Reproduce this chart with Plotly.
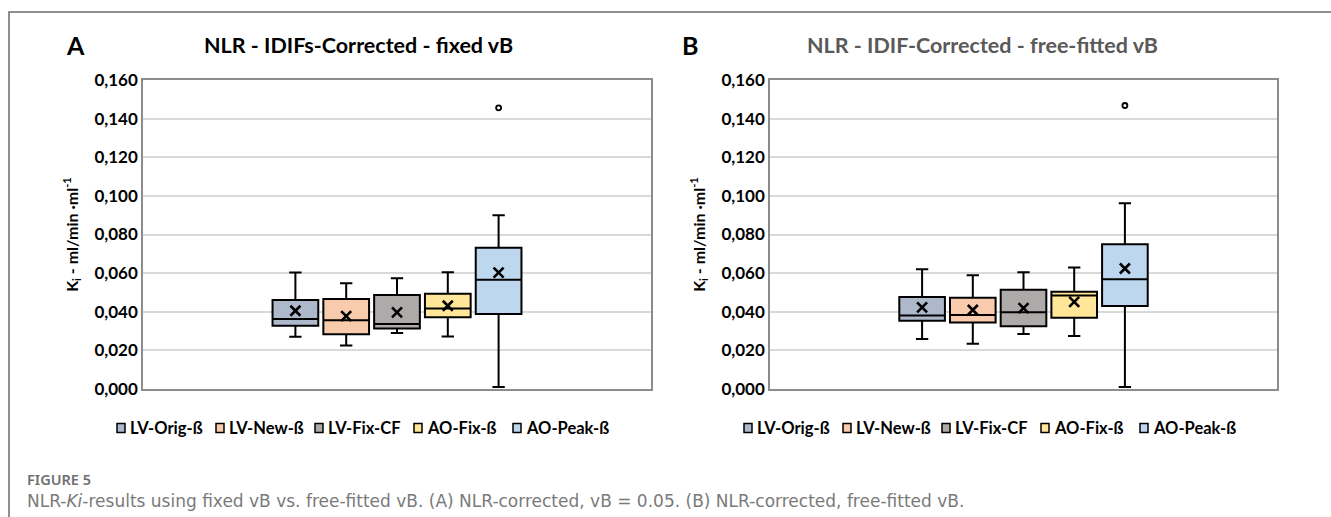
import plotly.graph_objects as go

# ---------------- data ----------------
series = ["LV-Orig-ß", "LV-New-ß", "LV-Fix-CF", "AO-Fix-ß", "AO-Peak-ß"]
colors = ["#ADB9CA", "#F8CBAD", "#AEAAAA", "#FFE699", "#BDD7EE"]

# Panel A: NLR - IDIFs-Corrected - fixed vB
a_lower = [0.0271, 0.0225, 0.0290, 0.0272, 0.0010]
a_q1 = [0.0328, 0.0283, 0.0313, 0.0372, 0.0388]
a_median = [0.0363, 0.0356, 0.0337, 0.0417, 0.0566]
a_q3 = [0.0461, 0.0466, 0.0487, 0.0493, 0.0732]
a_upper = [0.0603, 0.0547, 0.0573, 0.0604, 0.0900]
a_mean = [0.0405, 0.0377, 0.0397, 0.0431, 0.0603]
a_outlier_series = ["AO-Peak-ß"]
a_outlier_values = [0.1456]

# Panel B: NLR - IDIF-Corrected - free-fitted vB
b_lower = [0.0259, 0.0234, 0.0285, 0.0274, 0.0010]
b_q1 = [0.0353, 0.0344, 0.0325, 0.0369, 0.0430]
b_median = [0.0381, 0.0383, 0.0397, 0.0484, 0.0568]
b_q3 = [0.0477, 0.0473, 0.0514, 0.0503, 0.0749]
b_upper = [0.0620, 0.0589, 0.0604, 0.0629, 0.0962]
b_mean = [0.0423, 0.0409, 0.0419, 0.0451, 0.0624]
b_outlier_series = ["AO-Peak-ß"]
b_outlier_values = [0.1468]

y_ticks = [0.0, 0.02, 0.04, 0.06, 0.08, 0.10, 0.12, 0.14, 0.16]

FONT = "Lato, 'Open Sans', sans-serif"
W, H = 1331, 517


def px(x):
    return x / W


def py(y):
    return 1 - y / H


fig = go.Figure()


def add_panel(lower, q1, med, q3, upper, mean, out_series, out_values, xref, yref):
    for i, name in enumerate(series):
        fig.add_trace(go.Box(
            x=[i], q1=[q1[i]], median=[med[i]], q3=[q3[i]],
            lowerfence=[lower[i]], upperfence=[upper[i]],
            name=name, fillcolor=colors[i],
            line=dict(color="black", width=2),
            whiskerwidth=0.27, width=0.9, boxpoints=False,
            xaxis=xref, yaxis=yref, showlegend=False, hoverinfo="skip",
        ))
    fig.add_trace(go.Scatter(
        x=list(range(len(series))), y=mean, mode="markers",
        marker=dict(symbol="x-thin", size=10, line=dict(color="black", width=2.6)),
        showlegend=False, xaxis=xref, yaxis=yref, hoverinfo="skip",
    ))
    fig.add_trace(go.Scatter(
        x=[series.index(s) for s in out_series], y=out_values, mode="markers",
        marker=dict(symbol="circle-open", size=5, color="black", line=dict(color="black", width=1.8)),
        showlegend=False, xaxis=xref, yaxis=yref, hoverinfo="skip",
    ))


add_panel(a_lower, a_q1, a_median, a_q3, a_upper, a_mean, a_outlier_series, a_outlier_values, "x", "y")
add_panel(b_lower, b_q1, b_median, b_q3, b_upper, b_mean, b_outlier_series, b_outlier_values, "x2", "y2")

ytitle = "K<sub>i</sub> - ml/min ·ml<sup>-1</sup>"
xcommon = dict(range=[-3, 7], showticklabels=False, showgrid=False, zeroline=False,
               showline=True, mirror=True, linecolor="#8c8c8c", linewidth=1.5, ticks="",
               automargin=False)
ycommon = dict(range=[0, 0.16], tickvals=y_ticks, tickformat=".3f", showgrid=True,
               gridcolor="#d9d9d9", gridwidth=1.5, zeroline=False, showline=True, mirror=True,
               linecolor="#8c8c8c", linewidth=1.5, ticks="", automargin=False,
               tickfont=dict(family=FONT, size=17, color="black", weight="bold"),
               title=dict(text=ytitle, font=dict(family=FONT, size=16, color="black", weight="bold"),
                          standoff=12))

fig.update_layout(
    width=W, height=H,
    margin=dict(l=0, r=0, t=0, b=0, autoexpand=False),
    paper_bgcolor="white", plot_bgcolor="white",
    separators=",.",
    showlegend=False,
    xaxis=dict(domain=[px(143), px(651)], anchor="y", **xcommon),
    yaxis=dict(domain=[py(389), py(80)], anchor="x", **ycommon),
    xaxis2=dict(domain=[px(770), px(1277)], anchor="y2", **xcommon),
    yaxis2=dict(domain=[py(389), py(80)], anchor="x2", **ycommon),
)

# panel letters and titles
annotations = [
    dict(text="A", x=px(75), y=py(45), font=dict(family=FONT, size=25, color="black", weight="bold")),
    dict(text="NLR - IDIFs-Corrected - fixed vB", x=px(358), y=py(45),
         font=dict(family=FONT, size=21.5, color="black", weight="bold")),
    dict(text="B", x=px(690), y=py(45), font=dict(family=FONT, size=25, color="black", weight="bold")),
    dict(text="NLR - IDIF-Corrected - free-fitted vB", x=px(982), y=py(45),
         font=dict(family=FONT, size=21.5, color="#595959", weight="bold")),
]
for a in annotations:
    a.update(xref="paper", yref="paper", showarrow=False, xanchor="center", yanchor="middle")
    fig.add_annotation(**a)

# legends (one row under each panel)
LEG_Y = 428
LEG_STEP = 99
for start in (117, 744):
    for i, name in enumerate(series):
        sx = start + i * LEG_STEP
        fig.add_shape(type="rect", xref="paper", yref="paper",
                      x0=px(sx), x1=px(sx + 8), y0=py(LEG_Y + 4.5), y1=py(LEG_Y - 4.5),
                      line=dict(color="black", width=1.5), fillcolor=colors[i])
        fig.add_annotation(text=name, x=px(sx + 11), y=py(LEG_Y), xref="paper", yref="paper",
                           showarrow=False, xanchor="left", yanchor="middle",
                           font=dict(family=FONT, size=16.5, color="black", weight="bold"))

# caption
fig.add_annotation(text="FIGURE 5", x=px(25), y=py(479), xref="paper", yref="paper",
                   showarrow=False, xanchor="left", yanchor="middle",
                   font=dict(family="'Noto Sans', sans-serif", size=14.5, color="#6f6f6f", weight=600))
fig.add_annotation(text="NLR-<i>Ki</i>-results using fixed vB vs. free-fitted vB. (A) NLR-corrected, vB = 0.05. (B) NLR-corrected, free-fitted vB.",
                   x=px(25), y=py(501), xref="paper", yref="paper",
                   showarrow=False, xanchor="left", yanchor="middle",
                   font=dict(family="'DejaVu Sans', sans-serif", size=17, color="#7a7a7a"))

# page frame
fig.add_shape(type="rect", xref="paper", yref="paper",
              x0=px(9), x1=px(W + 20), y0=py(H + 20), y1=py(12),
              line=dict(color="#6b6b6b", width=1.5), fillcolor="rgba(0,0,0,0)", layer="below")

fig.write_html("out.html")
